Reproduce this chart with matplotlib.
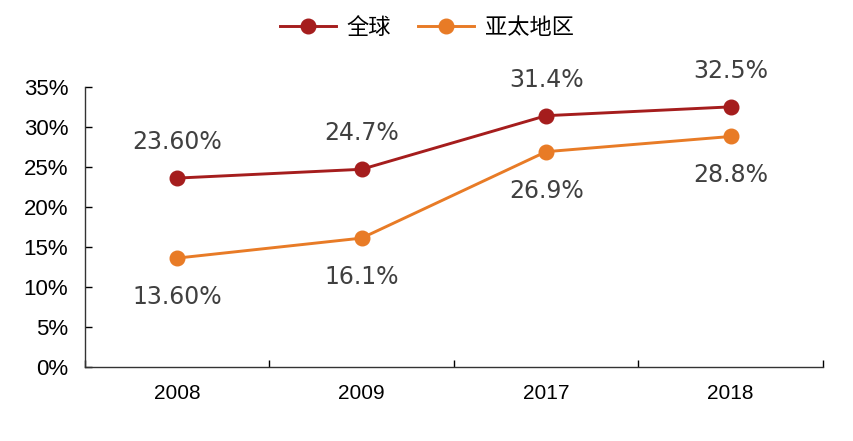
import numpy as np
import matplotlib.pyplot as plt

plt.rcParams['font.family'] = ['Noto Sans CJK SC', 'DejaVu Sans']

years = ['2008', '2009', '2017', '2018']
global_vals = [23.6, 24.7, 31.4, 32.5]
apac_vals = [13.6, 16.1, 26.9, 28.8]
global_labels = ['23.60%', '24.7%', '31.4%', '32.5%']
apac_labels = ['13.60%', '16.1%', '26.9%', '28.8%']

red = '#A51D1D'
orange = '#E87B26'

fig = plt.figure(figsize=(8.54, 4.41), dpi=100)
ax = fig.add_axes([0.0995, 0.168, 0.864, 0.635])

x = np.arange(len(years))
ax.plot(x, global_vals, color=red, lw=2.1, marker='o', ms=10.5, label='全球')
ax.plot(x, apac_vals, color=orange, lw=2.1, marker='o', ms=10.5, label='亚太地区')

for i in x:
    ax.annotate(global_labels[i], (i, global_vals[i]), xytext=(0, 26),
                textcoords='offset points', ha='center', va='center',
                fontsize=17, color='#404040', family='DejaVu Sans')
    ax.annotate(apac_labels[i], (i, apac_vals[i]), xytext=(0, -28),
                textcoords='offset points', ha='center', va='center',
                fontsize=17, color='#404040', family='DejaVu Sans')

ax.set_xlim(-0.5, 3.5)
ax.set_ylim(0, 35)
ax.set_yticks(range(0, 36, 5))
ax.set_yticklabels([f'{v}%' for v in range(0, 36, 5)], family='Liberation Sans', fontsize=16)
ax.set_xticks(x)
ax.set_xticklabels(years, family='Liberation Sans', fontsize=15)
ax.set_xticks(np.arange(-0.5, 4, 1), minor=True)
ax.tick_params(axis='x', which='major', length=0, pad=12)
ax.tick_params(axis='x', which='minor', length=5, direction='in', width=1)
ax.tick_params(axis='y', length=5, direction='in', width=1, pad=12)

for s in ['top', 'right']:
    ax.spines[s].set_visible(False)
for s in ['left', 'bottom']:
    ax.spines[s].set_linewidth(1)
    ax.spines[s].set_color('#333333')

fig.legend(loc='upper center', bbox_to_anchor=(0.5, 1.01), ncol=2, frameon=False,
           fontsize=16, handlelength=2.5, columnspacing=1.2, handletextpad=0.5)

fig.savefig('out.png', dpi=100)
